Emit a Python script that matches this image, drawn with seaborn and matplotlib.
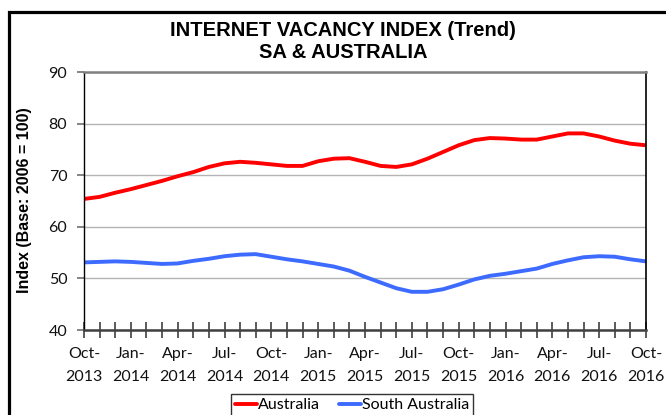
import seaborn as sns
import pandas as pd
import matplotlib.pyplot as plt
from matplotlib.patches import Rectangle
from matplotlib.lines import Line2D
from matplotlib.ticker import MultipleLocator

# monthly trend, Oct-2013 .. Oct-2016
months = pd.date_range("2013-10-01", "2016-10-01", freq="MS")

australia = [
    65.4, 65.8, 66.6, 67.3, 68.1, 68.9, 69.8, 70.6, 71.6, 72.3,
    72.6, 72.4, 72.1, 71.8, 71.8, 72.7, 73.2, 73.3, 72.6, 71.8,
    71.6, 72.1, 73.2, 74.5, 75.8, 76.8, 77.2, 77.1, 76.9, 76.9,
    77.5, 78.1, 78.1, 77.5, 76.7, 76.1, 75.8,
]
south_australia = [
    53.1, 53.2, 53.3, 53.2, 53.0, 52.8, 52.9, 53.4, 53.8, 54.3,
    54.6, 54.7, 54.2, 53.7, 53.3, 52.8, 52.3, 51.5, 50.3, 49.2,
    48.1, 47.4, 47.4, 47.9, 48.8, 49.8, 50.5, 50.9, 51.4, 51.9,
    52.8, 53.5, 54.1, 54.3, 54.2, 53.7, 53.3,
]
tick_labels = [
    "Oct-\n2013", "Jan-\n2014", "Apr-\n2014", "Jul-\n2014", "Oct-\n2014",
    "Jan-\n2015", "Apr-\n2015", "Jul-\n2015", "Oct-\n2015", "Jan-\n2016",
    "Apr-\n2016", "Jul-\n2016", "Oct-\n2016",
]

colors = {"Australia": "#ff0000", "South Australia": "#3d6bff"}

n = len(months)
df = pd.DataFrame({
    "month": list(range(n)) * 2,
    "value": australia + south_australia,
    "series": ["Australia"] * n + ["South Australia"] * n,
})

sns.set_style("white")
plt.rcParams["font.family"] = ["Lato", "DejaVu Sans"]
plt.rcParams["text.color"] = "black"

fig = plt.figure(figsize=(6.66, 4.15), dpi=100)
ax = fig.add_axes([84 / 666, 85 / 415, 562 / 666, 258 / 415])

sns.lineplot(data=df, x="month", y="value", hue="series", palette=colors,
             linewidth=2.8, ax=ax, legend=False)

ax.set_xlim(0, n - 1)
ax.set_ylim(40, 90)
ax.set_xticks(range(0, n, 3))
ax.set_xticklabels(tick_labels, linespacing=1.75)
ax.set_xticks(range(n), minor=True)
ax.yaxis.set_major_locator(MultipleLocator(10))
ax.set_xlabel("")
ax.set_ylabel("")

ax.grid(axis="y", color="#b4b4b4", linewidth=1)
ax.tick_params(axis="x", which="both", bottom=True, direction="inout",
               length=11, width=1.2, color="#404040")
ax.tick_params(axis="x", which="major", labelsize=11.5, pad=7,
               labelcolor="#111111")
ax.tick_params(axis="y", which="major", left=True, direction="out",
               length=5, width=1.2, color="#707070", labelsize=11.5, pad=7,
               labelcolor="#111111")

ax.spines["top"].set_color("#808080")
ax.spines["top"].set_linewidth(1.8)
ax.spines["bottom"].set_color("#404040")
ax.spines["bottom"].set_linewidth(1.8)
ax.spines["left"].set_color("black")
ax.spines["left"].set_linewidth(1)
ax.spines["right"].set_color("black")
ax.spines["right"].set_linewidth(1.2)

fig.text(343 / 666, 1 - 30 / 415, "INTERNET VACANCY INDEX (Trend)",
         ha="center", va="center", fontsize=14.5, fontweight="bold",
         family="Liberation Sans")
fig.text(343 / 666, 1 - 52 / 415, "SA & AUSTRALIA",
         ha="center", va="center", fontsize=14.5, fontweight="bold",
         family="Liberation Sans")
fig.text(25 / 666, 1 - 200 / 415, "Index (Base: 2006 = 100)", rotation=90,
         ha="center", va="center", fontsize=11.5, fontweight="bold",
         family="Liberation Sans")

handles = [Line2D([], [], color=colors[k], linewidth=2.8) for k in colors]
leg = fig.legend(handles, list(colors), loc="upper center",
                 bbox_to_anchor=(352 / 666, 1 - 394 / 415), ncol=2,
                 frameon=True, fancybox=False, fontsize=11.5,
                 handlelength=1.4, handletextpad=0.05, columnspacing=1.2,
                 borderpad=0.25, borderaxespad=0)
leg.get_frame().set_edgecolor("black")
leg.get_frame().set_linewidth(1)

fig.patches.append(Rectangle((9 / 666, -0.2), 1.5, 1.2 - 12 / 415,
                             transform=fig.transFigure, fill=False,
                             edgecolor="black", linewidth=2.3))

plt.savefig("out.png", dpi=100)
